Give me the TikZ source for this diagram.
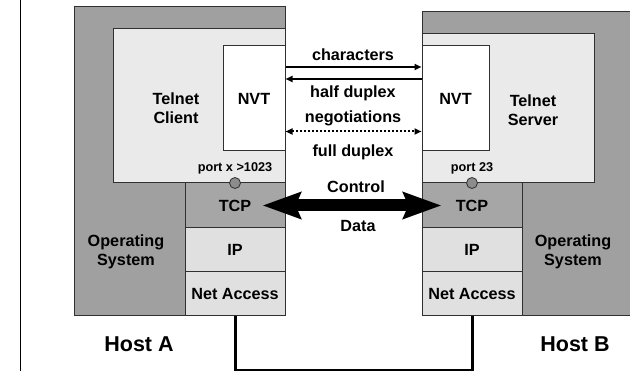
\documentclass[tikz,border=0pt]{standalone}
\usepackage{fontspec}
\setmainfont{Liberation Sans}
\usetikzlibrary{arrows.meta,calc}
\definecolor{osgray}{HTML}{A0A0A0}
\definecolor{tcpgray}{HTML}{A6A6A6}
\definecolor{appgray}{HTML}{EAEAEA}
\definecolor{laygray}{HTML}{E0E0E0}
\definecolor{edge}{HTML}{303030}
\definecolor{portgray}{HTML}{8C8C8C}
\begin{document}
\begin{tikzpicture}[x=1pt,y=-1pt,
  box/.style={rectangle,draw=edge,line width=1pt,inner sep=0pt},
  lbl/.style={font=\fontsize{16.2}{19.5}\selectfont\bfseries,align=center,inner sep=0pt},
  portlbl/.style={font=\fontsize{12.7}{14}\selectfont\bfseries,inner sep=0pt},
  hostlbl/.style={font=\fontsize{21.5}{24}\selectfont\bfseries,inner sep=0pt},
  port/.style={circle,draw=edge,fill=portgray,line width=0.8pt,minimum size=11pt,inner sep=0pt},
  thin arrow/.style={line width=2pt,-{Triangle[length=7pt,width=6pt]}},
  dots arrow/.style={line width=2pt,dash pattern=on 2pt off 2pt,{Triangle[length=7pt,width=6pt]}-{Triangle[length=7pt,width=6pt]}},
  big arrow/.style={line width=12pt,{Stealth[length=38pt,width=26pt,inset=5pt]}-{Stealth[length=38pt,width=26pt,inset=5pt]}},
  wire/.style={line width=3pt}]
\useasboundingbox (0,0) rectangle (630,371);
\begin{scope}
\clip (0,0) rectangle (630,371);
% left rule
\coordinate (rtop) at (20.5,0);
\coordinate (rbot) at (20.5,371);
\draw[line width=1.6pt] (rtop) -- (rbot);
% Host A
\node[box,fill=osgray,minimum width=211pt,minimum height=309pt] (hostA) at (179.5,161.5) {};
\node[box,fill=appgray,minimum width=172pt,minimum height=154pt] (clientA) at (199,106) {};
\node[box,fill=white,minimum width=62pt,minimum height=105pt,lbl] (nvtA) at (254,98.5) {NVT};
\node[box,fill=tcpgray,minimum width=100pt,minimum height=45pt,lbl] (tcpA) at (235,205.5) {TCP};
\node[box,fill=laygray,minimum width=100pt,minimum height=44pt,lbl] (ipA) at (235,250) {IP};
\node[box,fill=laygray,minimum width=100pt,minimum height=44pt,lbl] (naA) at (235,294) {Net Access};
\node[lbl] (telA) at (176,108) {Telnet\\Client};
\node[lbl] (osA) at (126,252) {Operating\\System};
\node[port] (portA) at (235,183) {};
\node[portlbl] (portAl) at (235,168) {port x >1023};
\node[hostlbl] (hA) at (139,344) {Host A};
% Host B
\node[box,fill=osgray,minimum width=222pt,minimum height=304pt] (hostB) at (533,164) {};
\node[box,fill=appgray,minimum width=172pt,minimum height=149pt] (serverB) at (508,108.5) {};
\node[box,fill=white,minimum width=67pt,minimum height=105pt,lbl] (nvtB) at (455.5,98.5) {NVT};
\node[box,fill=tcpgray,minimum width=100pt,minimum height=45pt,lbl] (tcpB) at (472,205.5) {TCP};
\node[box,fill=laygray,minimum width=100pt,minimum height=44pt,lbl] (ipB) at (472,250) {IP};
\node[box,fill=laygray,minimum width=100pt,minimum height=44pt,lbl] (naB) at (472,294) {Net Access};
\node[lbl] (telB) at (533,110) {Telnet\\Server};
\node[lbl] (osB) at (573,252) {Operating\\System};
\node[port] (portB) at (472,183) {};
\node[portlbl] (portBl) at (472,168) {port 23};
\node[hostlbl] (hB) at (575,344) {Host B};
% arrow labels
\node[lbl] (chars) at (353,55) {characters};
\node[lbl] (half) at (353,93) {half duplex};
\node[lbl] (nego) at (353,118) {negotiations};
\node[lbl] (full) at (353,152) {full duplex};
\node[lbl] (ctrl) at (356,187) {Control};
\node[lbl] (data) at (358,226) {Data};
% arrows between NVTs
\coordinate (y1) at (0,67);
\coordinate (y2) at (0,79);
\coordinate (y3) at (0,131.5);
\draw[thin arrow] (nvtA.east |- y1) -- (nvtB.west |- y1);
\draw[thin arrow] (nvtB.west |- y2) -- (nvtA.east |- y2);
\draw[dots arrow] (nvtA.east |- y3) -- (nvtB.west |- y3);
% TCP connection
\coordinate (tipA) at ($(tcpA.east)+(-23,0)$);
\coordinate (tipB) at ($(tcpB.west)+(20,0)$);
\draw[big arrow] (tipA) -- (tipB);
% physical wire
\coordinate (wA) at ($(naA.south)+(0,54)$);
\coordinate (wB) at ($(naB.south)+(0,54)$);
\draw[wire] (naA.south) -- (wA) -- (wB) -- (naB.south);
\end{scope}
\end{tikzpicture}
\end{document}
